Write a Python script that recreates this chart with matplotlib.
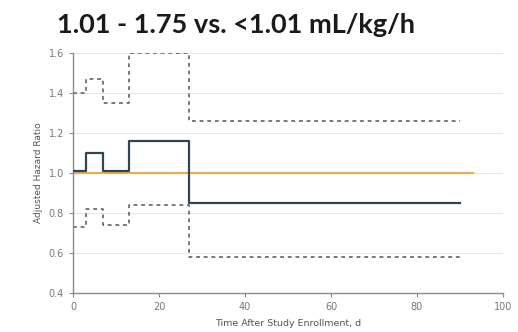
import matplotlib
matplotlib.use("Agg")
import matplotlib.pyplot as plt

# Step boundaries (days) and adjusted hazard ratio with 95% CI
edges = [0, 3, 7, 13, 27, 90]
hr = [1.01, 1.10, 1.01, 1.16, 0.85]
upper = [1.40, 1.47, 1.35, 1.60, 1.26]
lower = [0.73, 0.82, 0.74, 0.84, 0.58]
ref_end = 93
xticks = [0, 20, 40, 60, 80, 100]
yticks = [0.4, 0.6, 0.8, 1.0, 1.2, 1.4, 1.6]


def steps(vals):
    return vals + [vals[-1]]


fig = plt.figure(figsize=(5.18, 3.32), dpi=100)
ax = fig.add_axes([0.141, 0.1175, 0.830, 0.7225])

grid_c = "#e6e6e6"
for y in yticks[1:]:
    ax.axhline(y, color=grid_c, lw=0.8, zorder=0)

ax.plot([0, ref_end], [1.0, 1.0], color="#e9ad4c", lw=1.6, zorder=1)
ax.step(edges, steps(upper), where="post", color="#555555", lw=1.1,
        ls=(0, (2.5, 2.5)), zorder=2)
ax.step(edges, steps(lower), where="post", color="#555555", lw=1.1,
        ls=(0, (2.5, 2.5)), zorder=2)
ax.step(edges, steps(hr), where="post", color="#2e4650", lw=1.6, zorder=3)

ax.set_xlim(0, 100)
ax.set_ylim(0.4, 1.6)
ax.set_xticks(xticks)
ax.set_yticks(yticks)
ax.set_xticklabels([str(v) for v in xticks])
ax.set_yticklabels([f"{v:.1f}" for v in yticks])
for s in ["top", "right"]:
    ax.spines[s].set_visible(False)
for s in ["left", "bottom"]:
    ax.spines[s].set_color("#8a8a8a")
    ax.spines[s].set_linewidth(1.0)
ax.tick_params(colors="#8a8a8a", labelcolor="#777777", labelsize=7,
               length=3, width=0.8)
ax.set_ylabel("Adjusted Hazard Ratio", fontsize=6.5, color="#555555",
              labelpad=4)
ax.set_xlabel("Time After Study Enrollment, d", fontsize=6.8,
              color="#555555", labelpad=5)

fig.text(0.11, 0.925, "1.01 - 1.75 vs. <1.01 mL/kg/h", fontsize=19.5,
         fontweight="bold", color="#1a1a1a", family="Lato",
         va="center", ha="left")

fig.savefig("out.png", dpi=100)
